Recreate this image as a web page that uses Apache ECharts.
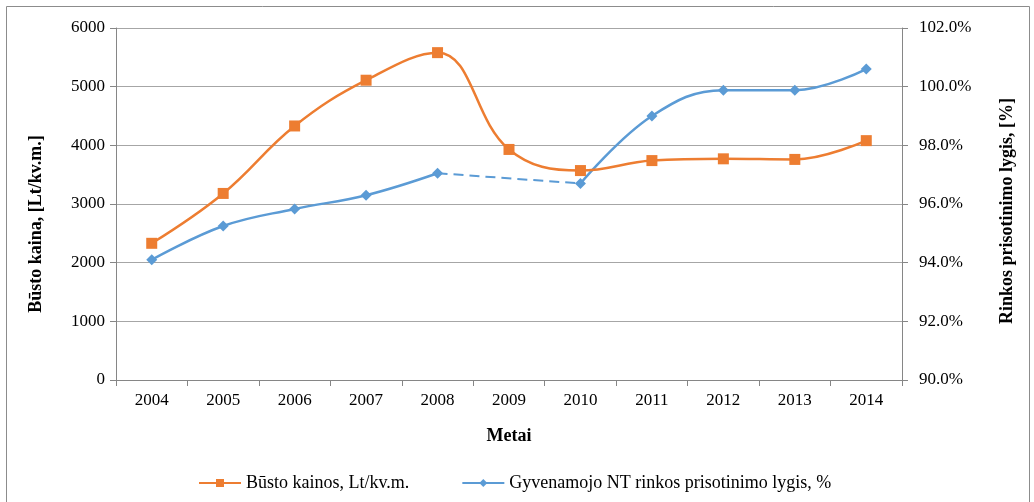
<!DOCTYPE html>
<html>
<head>
<meta charset="utf-8">
<script src="https://cdn.jsdelivr.net/npm/echarts@6/dist/echarts.min.js"></script>
<style>
  html, body { margin: 0; padding: 0; background: #fff; }
  #main { width: 1034px; height: 502px; }
</style>
</head>
<body>
<div id="main"></div>
<script>
var years = ['2004', '2005', '2006', '2007', '2008', '2009', '2010', '2011', '2012', '2013', '2014'];
// Būsto kainos, Lt/kv.m.
var prices = [2330, 3180, 4330, 5110, 5580, 3930, 3570, 3740, 3770, 3760, 4080];
// prisotinimo lygis, % (2009 nėra)
var saturation = [94.1, 95.25, 95.83, 96.3, 97.05, null, 96.7, 99.0, 99.88, 99.88, 100.6];
// punktyrinis tarpas 2008-2010
var gapLine = [null, null, null, null, 97.05, null, 96.7, null, null, null, null];

var fontFam = 'Liberation Serif';
var axisGrey = '#868686';
var gridGrey = '#a6a6a6';

var myChart = echarts.init(document.getElementById('main'));
var option = {
    animation: false,
    textStyle: { fontFamily: fontFam, color: '#000' },
    graphic: [{
        type: 'rect',
        shape: { x: 6.5, y: 6.5, width: 1023, height: 500 },
        style: { fill: 'none', stroke: '#8c8c8c', lineWidth: 1 }
    }, {
        // kairės ašies pavadinimas
        type: 'text',
        x: 36,
        y: 224,
        rotation: Math.PI / 2,
        style: {
            text: 'Būsto kaina, [Lt/kv.m.]',
            fontFamily: fontFam,
            fontSize: 18,
            fontWeight: 'bold',
            fill: '#000',
            align: 'center',
            verticalAlign: 'middle'
        }
    }, {
        // dešinės ašies pavadinimas
        type: 'text',
        x: 1007,
        y: 211,
        rotation: Math.PI / 2,
        style: {
            text: 'Rinkos prisotinimo lygis, [%]',
            fontFamily: fontFam,
            fontSize: 18,
            fontWeight: 'bold',
            fill: '#000',
            align: 'center',
            verticalAlign: 'middle'
        }
    }],
    grid: { left: 116, right: 132, top: 28, bottom: 122 },
    legend: {
        left: 193,
        top: 469,
        itemWidth: 42,
        itemHeight: 10,
        itemGap: 52,
        textStyle: { fontFamily: fontFam, fontSize: 18, color: '#000' },
        data: ['Būsto kainos, Lt/kv.m.', 'Gyvenamojo NT rinkos prisotinimo lygis, %']
    },
    xAxis: {
        type: 'category',
        data: years,
        boundaryGap: true,
        name: 'Metai',
        nameLocation: 'middle',
        nameGap: 47,
        nameTextStyle: { fontFamily: fontFam, fontSize: 18, fontWeight: 'bold', color: '#000' },
        axisLine: { lineStyle: { color: axisGrey } },
        axisTick: { show: true, length: 6, lineStyle: { color: axisGrey } },
        axisLabel: { fontFamily: fontFam, fontSize: 17, color: '#000', margin: 12 },
        splitLine: { show: false }
    },
    yAxis: [{
        type: 'value',
        min: 0,
        max: 6000,
        interval: 1000,
        axisLine: { show: true, lineStyle: { color: axisGrey } },
        axisTick: { show: true, length: 6, lineStyle: { color: axisGrey } },
        axisLabel: {
            fontFamily: fontFam, fontSize: 17, color: '#000', margin: 11,
            formatter: function (v) { return String(v); }
        },
        splitLine: { show: true, lineStyle: { color: gridGrey, width: 1 } }
    }, {
        type: 'value',
        min: 90,
        max: 102,
        interval: 2,
        position: 'right',
        axisLine: { show: true, lineStyle: { color: axisGrey } },
        axisTick: { show: true, length: 6, lineStyle: { color: axisGrey } },
        axisLabel: {
            fontFamily: fontFam, fontSize: 17, color: '#000', margin: 17,
            formatter: function (v) { return v.toFixed(1) + '%'; }
        },
        splitLine: { show: false }
    }],
    series: [{
        name: 'Būsto kainos, Lt/kv.m.',
        type: 'line',
        yAxisIndex: 0,
        data: prices,
        smooth: 0.4,
        symbol: 'rect',
        symbolSize: 11,
        lineStyle: { color: '#ED7D31', width: 2.5 },
        itemStyle: { color: '#ED7D31' },
        z: 3
    }, {
        name: 'Gyvenamojo NT rinkos prisotinimo lygis, %',
        type: 'line',
        yAxisIndex: 1,
        data: saturation,
        smooth: 0.4,
        connectNulls: false,
        symbol: 'diamond',
        symbolSize: 11,
        lineStyle: { color: '#5B9BD5', width: 2.5 },
        itemStyle: { color: '#5B9BD5' },
        z: 2
    }, {
        name: 'tarpas',
        type: 'line',
        yAxisIndex: 1,
        data: gapLine,
        connectNulls: true,
        showSymbol: false,
        symbol: 'none',
        lineStyle: { color: '#5B9BD5', width: 2, type: [10, 6] },
        z: 1
    }]
};
myChart.setOption(option);
</script>
</body>
</html>
